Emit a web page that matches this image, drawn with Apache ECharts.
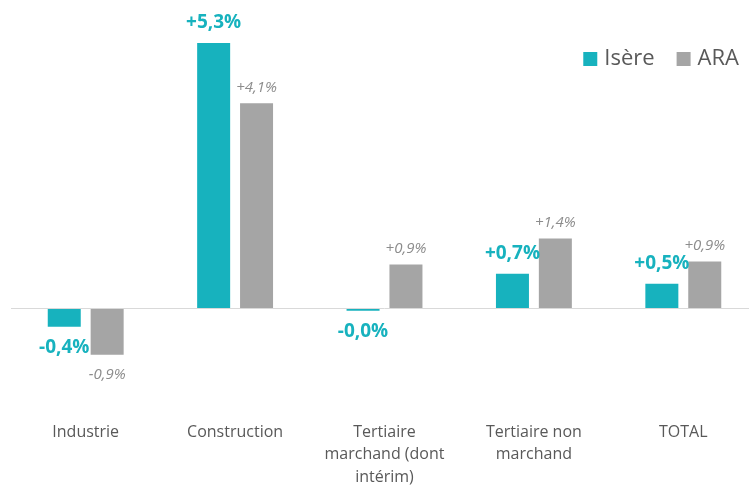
<!DOCTYPE html>
<html>
<head>
<meta charset="utf-8">
<script src="https://cdn.jsdelivr.net/npm/echarts@6/dist/echarts.min.js"></script>
<style>
  html, body { margin: 0; padding: 0; background: #fff; overflow: hidden; }
  #chart { width: 760px; height: 489px; }
</style>
</head>
<body>
<div id="chart"></div>
<script>
const categories = ['Industrie', 'Construction', 'Tertiaire\nmarchand (dont\nintérim)', 'Tertiaire non\nmarchand', 'TOTAL']
const isere = [-0.36, 5.3, -0.04, 0.7, 0.5]
const ara = [-0.92, 4.1, 0.88, 1.4, 0.94]

const TEAL = '#17B2BE'
const GREY = '#A5A5A5'
const FONT = '"Open Sans", "Noto Sans", sans-serif'

function fmt(v) {
  const s = Math.abs(v).toFixed(1).replace('.', ',')
  return (v < 0 ? '-' : '+') + s + '%'
}

// negative bars get their label underneath
function withLabels(values, upDist, downDist) {
  return values.map(v => ({
    value: v,
    label: { position: v < 0 ? 'bottom' : 'top', distance: v < 0 ? downDist : upDist }
  }))
}

const chart = echarts.init(document.getElementById('chart'))

chart.setOption({
  animation: false,
  textStyle: { fontFamily: FONT },
  legend: {
    right: 16,
    top: 43,
    itemWidth: 14,
    itemHeight: 14,
    itemGap: 22,
    icon: 'rect',
    textStyle: { fontSize: 22, color: '#595959', fontFamily: FONT, padding: [0, 0, 0, 2] },
    data: ['Isère', 'ARA']
  },
  grid: { left: 11, right: 2, top: 38, bottom: 80, outerBoundsMode: 'none' },
  xAxis: {
    type: 'category',
    data: categories,
    position: 'bottom',
    axisLine: { show: false, onZero: false },
    axisTick: { show: false },
    axisLabel: {
      color: '#595959',
      fontSize: 16,
      lineHeight: 22.5,
      margin: 12,
      verticalAlign: 'top',
      interval: 0
    }
  },
  yAxis: {
    type: 'value',
    min: -2,
    max: 5.4,
    show: false,
    splitLine: { show: false }
  },
  series: [
    {
      name: 'Isère',
      type: 'bar',
      barWidth: 33,
      barGap: '30%',
      itemStyle: { color: TEAL },
      data: withLabels(isere, 11, 11),
      label: {
        show: true,
        color: TEAL,
        fontSize: 19,
        fontWeight: 'bold',
        formatter: p => fmt(p.value)
      },
      markLine: {
        silent: true,
        symbol: 'none',
        label: { show: false },
        lineStyle: { color: '#D9D9D9', type: 'solid', width: 1 },
        data: [{ yAxis: 0 }]
      }
    },
    {
      name: 'ARA',
      type: 'bar',
      barWidth: 33,
      itemStyle: { color: GREY },
      data: withLabels(ara, 8, 12),
      label: {
        show: true,
        color: '#8C8C8C',
        fontSize: 15,
        fontStyle: 'italic',
        formatter: p => fmt(p.value)
      }
    }
  ]
})
</script>
</body>
</html>
